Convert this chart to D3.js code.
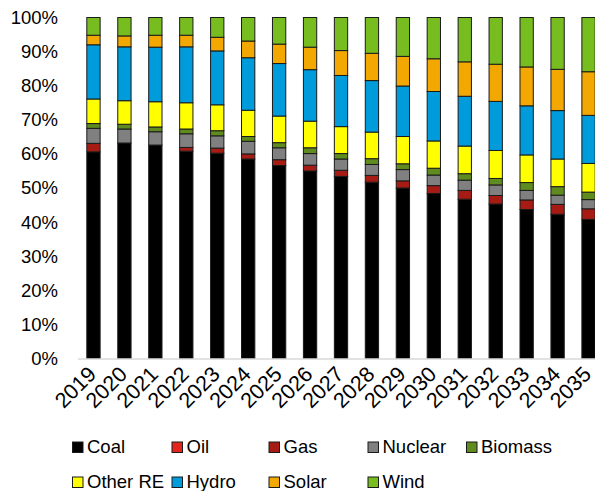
<!DOCTYPE html>
<html>
<head>
<meta charset="utf-8">
<script src="https://cdn.jsdelivr.net/npm/d3@7"></script>
<style>
  html, body { margin: 0; padding: 0; background: #fff; }
  svg { display: block; font-family: "Liberation Sans", Arial, sans-serif; }
</style>
</head>
<body>
<svg id="chart" width="595" height="491"></svg>
<script>
const years = ["2019","2020","2021","2022","2023","2024","2025","2026","2027","2028","2029","2030","2031","2032","2033","2034","2035"];
const seriesNames = ["Coal","Oil","Gas","Nuclear","Biomass","Other RE","Hydro","Solar","Wind"];
const seriesColors = ["#000000","#e2261c","#a61c15","#808080","#5f8b1f","#ffff00","#009bdb","#f2a800","#78bd20"];

const coal    = [60.6,63.2,62.6,60.8,60.2,58.5,56.6,55.0,53.4,51.7,50.0,48.4,46.7,45.3,43.7,42.3,40.8];
const oil     = [0,0,0,0,0,0,0,0,0,0,0,0,0,0,0,0,0];
const gas     = [2.5,0,0,1.1,1.5,1.5,1.7,1.7,1.8,2.0,2.1,2.3,2.6,2.5,2.8,2.9,3.1];
const nuclear = [4.4,4.1,3.9,4.0,3.6,3.7,3.5,3.4,3.3,3.2,3.3,3.1,3.0,3.1,2.8,2.7,2.7];
const biomass = [1.4,1.4,1.4,1.4,1.5,1.4,1.5,1.7,1.6,1.7,1.7,2.0,1.9,1.9,2.3,2.5,2.2];
const otherRE = [7.2,6.9,7.4,7.7,7.6,7.7,7.8,7.8,7.9,7.8,8.0,8.0,8.1,8.2,8.1,8.1,8.4];
const hydro   = [15.9,15.8,16.0,16.4,15.8,15.4,15.4,15.1,15.0,15.1,14.8,14.5,14.6,14.4,14.4,14.2,14.1];
const solar   = [2.8,3.2,3.5,3.4,4.0,4.9,5.7,6.6,7.3,8.0,8.7,9.6,10.1,10.9,11.4,12.1,12.8];
const wind    = [5.2,5.4,5.2,5.2,5.8,6.9,7.8,8.7,9.7,10.5,11.4,12.1,13.0,13.7,14.5,15.2,15.9];
const yTicks  = [0,0.1,0.2,0.3,0.4,0.5,0.6,0.7,0.8,0.9,1.0];

const seriesValues = [coal, oil, gas, nuclear, biomass, otherRE, hydro, solar, wind];
const rows = years.map((y, i) => {
  const r = { year: y };
  seriesNames.forEach((n, k) => r[n] = seriesValues[k][i]);
  return r;
});

const FS = 18.5;
const XFS = 21.5;
const svg = d3.select("#chart");
const x = d3.scaleBand().domain(years).range([78, 604]).paddingInner(0.57).paddingOuter(0.285);
const y = d3.scaleLinear().domain([0, 1]).range([358.5, 17.5]);
const color = d3.scaleOrdinal().domain(seriesNames).range(seriesColors);

const stack = d3.stack().keys(seriesNames).offset(d3.stackOffsetExpand);
const stacked = stack(rows);

// bars
svg.append("g").selectAll("g")
  .data(stacked).join("g")
  .attr("fill", d => color(d.key))
  .selectAll("rect")
  .data(d => d.filter(p => p[1] - p[0] > 0.0001))
  .join("rect")
  .attr("x", d => x(d.data.year))
  .attr("width", x.bandwidth())
  .attr("y", d => y(d[1]))
  .attr("height", d => y(d[0]) - y(d[1]))
  .attr("stroke", "#1a1a1a")
  .attr("stroke-width", 1);

// x baseline
svg.append("line")
  .attr("x1", 78).attr("x2", 595)
  .attr("y1", y(0) + 0.5).attr("y2", y(0) + 0.5)
  .attr("stroke", "#d9d9d9").attr("stroke-width", 1.5);

// y axis labels
const yAxis = d3.axisLeft(y).tickValues(yTicks).tickFormat(d3.format(".0%")).tickSize(0).tickPadding(0);
const gy = svg.append("g").attr("transform", "translate(58,0)").call(yAxis);
gy.select(".domain").remove();
gy.selectAll("text").attr("font-size", FS).attr("fill", "#000")
  .attr("font-family", "'Liberation Sans', Arial, sans-serif");

// x axis labels
const xAxis = d3.axisBottom(x).tickSize(0).tickPadding(0);
const gx = svg.append("g").attr("transform", `translate(0,${y(0)})`).call(xAxis);
gx.select(".domain").remove();
gx.selectAll("text")
  .attr("font-size", XFS).attr("fill", "#000")
  .attr("font-family", "'Liberation Sans', Arial, sans-serif")
  .attr("text-anchor", "end")
  .attr("dy", null)
  .attr("y", 0)
  .attr("transform", "translate(0,13) rotate(-45)")
  .attr("dominant-baseline", "middle");

// legend
const legendPos = [
  [72, 447], [171.5, 447], [268.5, 447], [367.5, 447], [466, 447],
  [72, 482], [171.5, 482], [268.5, 482], [367.5, 482]
];
const legendOrder = ["Coal","Oil","Gas","Nuclear","Biomass","Other RE","Hydro","Solar","Wind"];
const lg = svg.append("g");
legendOrder.forEach((n, i) => {
  const [lx, ly] = legendPos[i];
  lg.append("rect").attr("x", lx + 0.5).attr("y", ly - 5).attr("width", 10.5).attr("height", 10.5)
    .attr("fill", color(n)).attr("stroke", "#1a1a1a").attr("stroke-width", 1);
  lg.append("text").attr("x", lx + 15).attr("y", ly).attr("dy", "0.35em")
    .attr("font-size", FS).attr("fill", "#000").text(n);
});
</script>
</body>
</html>
